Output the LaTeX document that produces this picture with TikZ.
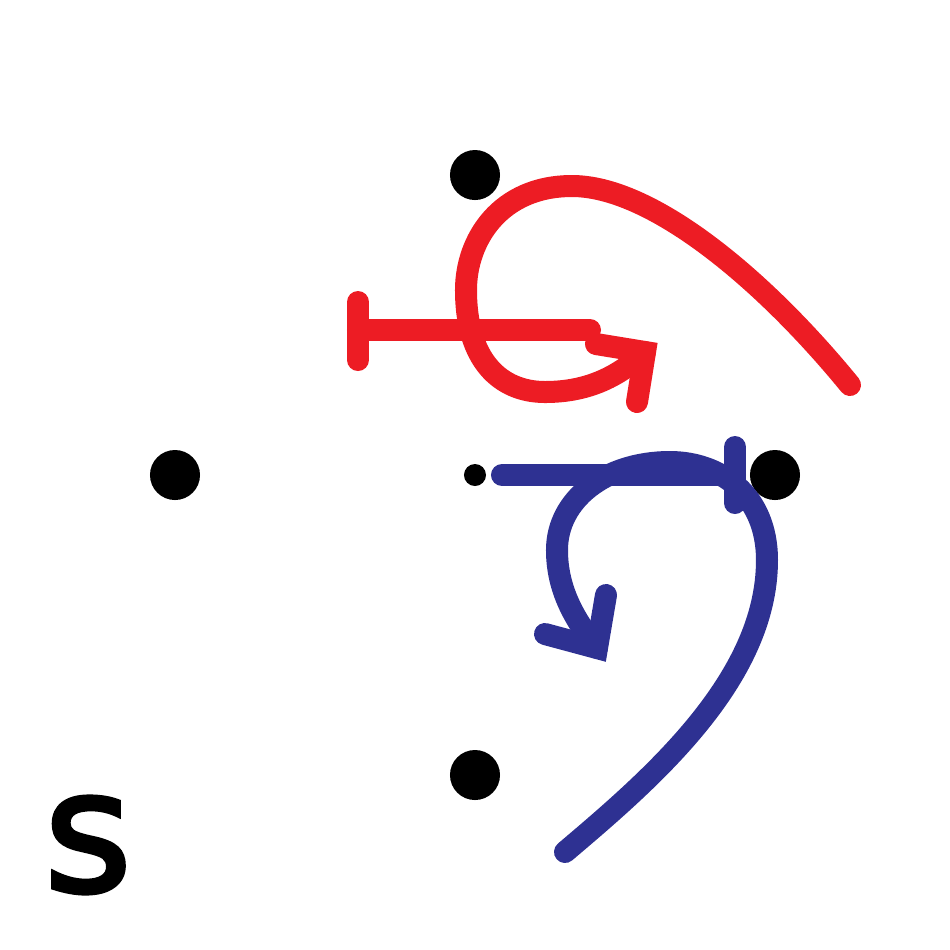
\documentclass[tikz,border=0pt]{standalone}
\usepackage{fontspec}
\newfontfamily\lab[FakeBold=2.5]{DejaVu Sans}
\definecolor{rd}{RGB}{237,28,36}
\definecolor{bl}{RGB}{46,49,146}
\begin{document}
\begin{tikzpicture}[x=0.01cm,y=-0.01cm,
  dot/.style={circle,fill=black,inner sep=0pt,minimum size=0.5cm},
  smalldot/.style={circle,fill=black,inner sep=0pt,minimum size=0.22cm},
  redline/.style={draw=rd,line width=0.22cm,line cap=round,line join=round},
  blueline/.style={draw=bl,line width=0.22cm,line cap=round,line join=round},
  headjoin/.style={line join=miter,miter limit=4}]
\useasboundingbox (0,0) rectangle (950,950);
\node[dot] (n) at (475,175) {};
\node[dot] (w) at (175,475) {};
\node[dot] (e) at (775,475) {};
\node[dot] (s) at (475,775) {};
\node[smalldot] (c) at (475,475) {};
\node[font=\lab\fontsize{48}{48}\selectfont,inner sep=0pt] (lbl) at (88,845) {s};
% red
\coordinate (r0) at (850,385);
\coordinate (r1) at (572,186);
\coordinate (r2) at (466,290);
\coordinate (r3) at (545,392);
\coordinate (r4) at (645,352);
\draw[redline] (r0) .. controls (760,275) and (650,186) .. (r1)
  .. controls (500,186) and (466,240) .. (r2)
  .. controls (466,360) and (500,392) .. (r3)
  .. controls (590,392) and (620,375) .. (r4);
\coordinate (ra) at (596,344);
\coordinate (rb) at (637,402);
\draw[redline,headjoin] (ra) -- (r4) -- (rb);
\coordinate (rs) at (590,330);
\coordinate (re) at (358,330);
\coordinate (rt) at (358,302);
\coordinate (rbb) at (358,360);
\draw[redline] (rs) -- (re);
\draw[redline] (rt) -- (rbb);
% blue
\coordinate (b0) at (565,852);
\coordinate (b1) at (767,560);
\coordinate (b2) at (670,462);
\coordinate (b3) at (557,550);
\coordinate (b4) at (597,648);
\draw[blueline] (b0) .. controls (650,780) and (767,680) .. (b1)
  .. controls (767,495) and (720,462) .. (b2)
  .. controls (605,462) and (557,500) .. (b3)
  .. controls (557,590) and (575,620) .. (b4);
\coordinate (ba) at (545,634);
\coordinate (bb) at (606,595);
\draw[blueline,headjoin] (ba) -- (b4) -- (bb);
\coordinate (bs) at (502,475);
\coordinate (be) at (735,475);
\coordinate (bt) at (735,447);
\coordinate (bbb) at (735,503);
\draw[blueline] (bs) -- (be);
\draw[blueline] (bt) -- (bbb);
\end{tikzpicture}
\end{document}
